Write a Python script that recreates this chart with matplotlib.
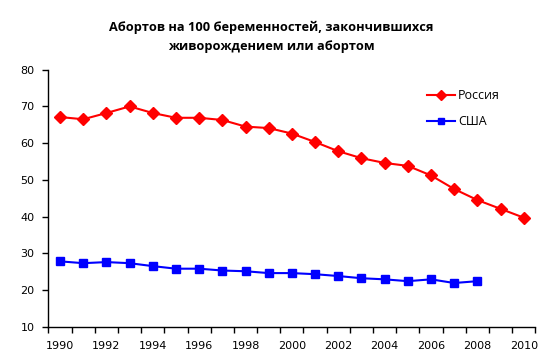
import matplotlib
matplotlib.use("Agg")
from matplotlib import pyplot as plt
import numpy as np

years = list(range(1990, 2011))
russia = [67.1, 66.5, 68.2, 70.0, 68.2, 66.9, 66.9, 66.3, 64.5, 64.1, 62.6,
          60.3, 57.8, 55.9, 54.6, 53.8, 51.2, 47.5, 44.5, 42.1, 39.7]
usa_years = list(range(1990, 2009))
usa = [27.8, 27.3, 27.6, 27.3, 26.5, 25.8, 25.8, 25.3, 25.1, 24.6, 24.6,
       24.3, 23.8, 23.2, 22.9, 22.4, 22.9, 21.9, 22.4]

title = "Абортов на 100 беременностей, закончившихся\nживорождением или абортом"

fig = plt.figure(figsize=(5.56, 3.6), dpi=100)
ax = fig.add_axes([0.0872, 0.0925, 0.8756, 0.7139])

ax.plot(years, russia, color="#ff0000", lw=1.5, marker="D", ms=6, label="Россия")
ax.plot(usa_years, usa, color="#0000ff", lw=1.5, marker="s", ms=6, label="США")

ax.set_xlim(1989.5, 2010.5)
ax.set_ylim(10, 80)
ax.set_yticks(range(10, 81, 10))

# category-style axis: ticks between years, labels on even years
ax.set_xticks(np.arange(1989.5, 2011, 1))
ax.set_xticklabels([])
ax.set_xticks(range(1990, 2011, 2), minor=True)
ax.set_xticklabels([str(y) for y in range(1990, 2011, 2)], minor=True)
ax.tick_params(axis="x", which="major", length=4, width=1, direction="out")
ax.tick_params(axis="x", which="minor", length=0, pad=10, labelsize=8)
ax.tick_params(axis="y", length=4, width=1, direction="out", labelsize=8, pad=6)

for s in ["top", "right"]:
    ax.spines[s].set_visible(False)
for s in ["left", "bottom"]:
    ax.spines[s].set_linewidth(1)

fig.text(0.488, 0.897, title, ha="center", va="center", fontsize=9.2,
         fontweight="bold", family="Open Sans", linespacing=1.6)

leg = ax.legend(loc="upper left", bbox_to_anchor=(0.755, 0.967), frameon=False,
                prop={"family": "Open Sans", "size": 9}, handlelength=2.2,
                handletextpad=0.25, labelspacing=1.0, markerscale=0.8)

fig.savefig("out.png", dpi=100)
